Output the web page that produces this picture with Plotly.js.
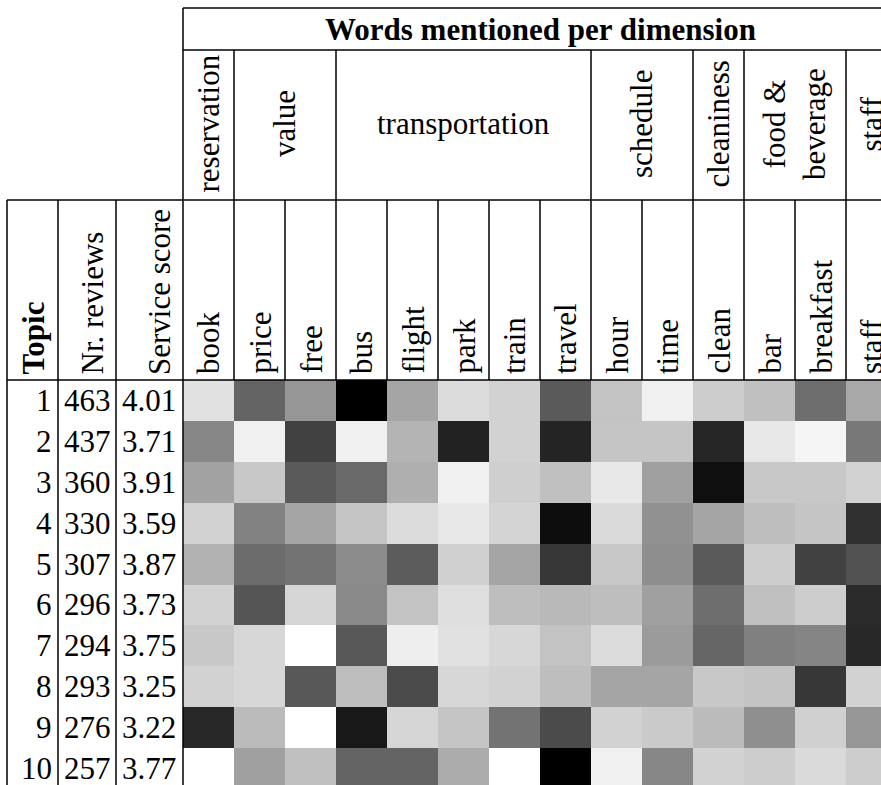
<!DOCTYPE html>
<html><head><meta charset="utf-8">
<script src="https://cdn.plot.ly/plotly-3.0.1.min.js"></script>
<style>html,body{margin:0;padding:0;background:#fff;}#chart{width:881px;height:785px;}</style>
</head><body><div id="chart"></div>
<script>
// ---------- data ----------
const topics = [1, 2, 3, 4, 5, 6, 7, 8, 9, 10];
const reviews = [463, 437, 360, 330, 307, 296, 294, 293, 276, 257];
const scores = ['4.01', '3.71', '3.91', '3.59', '3.87', '3.73', '3.75', '3.25', '3.22', '3.77'];
const words = ['book', 'price', 'free', 'bus', 'flight', 'park', 'train', 'travel', 'hour', 'time', 'clean', 'bar', 'breakfast', 'staff'];
const dimensions = ['reservation', 'value', 'transportation', 'schedule', 'cleaniness', 'food &<br>beverage', 'staff'];
const dimensionSpans = [1, 2, 5, 2, 1, 2, 1];
// grey level of each cell (0 = black, 255 = white), one array per topic
const topic1 = [225, 100, 150, 0, 165, 220, 210, 90, 195, 240, 205, 192, 110, 168];
const topic2 = [135, 240, 65, 240, 180, 33, 210, 36, 197, 197, 38, 232, 245, 120];
const topic3 = [162, 200, 90, 105, 175, 240, 207, 192, 232, 160, 15, 200, 200, 210];
const topic4 = [210, 130, 165, 197, 220, 232, 212, 13, 218, 145, 165, 190, 197, 48];
const topic5 = [178, 108, 115, 140, 92, 208, 165, 55, 200, 142, 90, 205, 65, 82];
const topic6 = [210, 85, 213, 138, 195, 222, 190, 185, 190, 160, 110, 192, 205, 43];
const topic7 = [200, 215, 255, 88, 238, 225, 215, 195, 220, 155, 102, 128, 133, 40];
const topic8 = [210, 215, 88, 190, 75, 215, 210, 190, 165, 165, 200, 195, 55, 210];
const topic9 = [40, 187, 255, 24, 213, 197, 115, 75, 210, 202, 187, 143, 208, 150];
const topic10 = [255, 160, 192, 100, 100, 172, 255, 0, 240, 135, 210, 205, 218, 205];
const greyLevels = [topic1, topic2, topic3, topic4, topic5, topic6, topic7, topic8, topic9, topic10];

// ---------- layout geometry (pixels) ----------
const W = 881, H = 785;
const px = v => v / W;
const py = v => 1 - v / H;
const tableLeft = 7, topicRight = 58, reviewsRight = 116, heatLeft = 183;
const colWidth = 51.0;
const titleTop = 8, dimTop = 50, wordTop = 200, dataTop = 380;
const rowHeight = 40.9;
const FONT = 'Liberation Serif';
const FS = 31;
const LINE = {color: '#000', width: 1.5};

const xMax = -0.5 + (W - heatLeft) / colWidth;
const yMax = 0.5 + (H - dataTop) / rowHeight;

const trace = {
  type: 'heatmap',
  x: words,
  y: topics,
  z: greyLevels,
  zmin: 0, zmax: 255,
  colorscale: [[0, 'rgb(0,0,0)'], [1, 'rgb(255,255,255)']],
  showscale: false,
  hoverinfo: 'skip'
};

const shapes = [];
const annotations = [];
function hline(y, x0, x1) {
  shapes.push({type: 'line', xref: 'paper', yref: 'paper', x0: px(x0), x1: px(x1), y0: y, y1: y, line: LINE});
}
// horizontal rules
hline(py(titleTop), heatLeft, W + 5);
hline(py(dimTop), heatLeft, W + 5);
hline(py(wordTop), tableLeft, W + 5);
hline(py(dataTop), tableLeft, W + 5);
// vertical rules of the left block
[tableLeft, topicRight, reviewsRight].forEach(x => {
  shapes.push({type: 'line', xref: 'paper', yref: 'paper', x0: px(x), x1: px(x), y0: py(wordTop), y1: 0, line: LINE});
});
shapes.push({type: 'line', xref: 'paper', yref: 'paper', x0: px(heatLeft), x1: px(heatLeft), y0: py(titleTop), y1: 0, line: LINE});
// word separators
for (let i = 1; i < words.length; i++) {
  shapes.push({type: 'line', xref: 'x', yref: 'paper', x0: i - 0.5, x1: i - 0.5, y0: py(wordTop), y1: py(dataTop), line: LINE});
}
// dimension separators + labels
let start = 0;
dimensions.forEach((d, k) => {
  const span = dimensionSpans[k];
  const end = start + span;
  if (k < dimensions.length - 1) {
    shapes.push({type: 'line', xref: 'x', yref: 'paper', x0: end - 0.5, x1: end - 0.5, y0: py(dimTop), y1: py(wordTop), line: LINE});
  }
  const center = (start + end - 1) / 2;
  annotations.push({
    xref: 'x', yref: 'paper', x: center, y: py(124),
    text: d, showarrow: false, textangle: span >= 5 ? 0 : -90,
    xanchor: 'center', yanchor: 'middle',
    font: {family: FONT, size: FS, color: '#000'}
  });
  start = end;
});
// title
annotations.push({
  xref: 'paper', yref: 'paper', x: px(540), y: py(30),
  text: '<b>Words mentioned per dimension</b>', showarrow: false,
  xanchor: 'center', yanchor: 'middle',
  font: {family: FONT, size: FS, color: '#000'}
});
// word headers
words.forEach((w, i) => {
  annotations.push({
    xref: 'x', yref: 'paper', x: i, y: py(376),
    text: w, showarrow: false, textangle: -90,
    xanchor: 'center', yanchor: 'bottom',
    font: {family: FONT, size: FS, color: '#000'}
  });
});
// left headers
[['<b>Topic</b>', 33], ['Nr. reviews', 92], ['Service score', 159]].forEach(([t, x]) => {
  annotations.push({
    xref: 'paper', yref: 'paper', x: px(x), y: py(377),
    text: t, showarrow: false, textangle: -90,
    xanchor: 'center', yanchor: 'bottom',
    font: {family: FONT, size: FS, color: '#000'}
  });
});
// row cells
topics.forEach((t, r) => {
  annotations.push({xref: 'paper', yref: 'y', x: px(54), y: t, text: String(t), showarrow: false,
    xanchor: 'right', yanchor: 'middle', font: {family: FONT, size: FS, color: '#000'}});
  annotations.push({xref: 'paper', yref: 'y', x: px(87), y: t, text: String(reviews[r]), showarrow: false,
    xanchor: 'center', yanchor: 'middle', font: {family: FONT, size: FS, color: '#000'}});
  annotations.push({xref: 'paper', yref: 'y', x: px(149), y: t, text: scores[r], showarrow: false,
    xanchor: 'center', yanchor: 'middle', font: {family: FONT, size: FS, color: '#000'}});
});

const layout = {
  width: W, height: H,
  margin: {l: 0, r: 0, t: 0, b: 0, pad: 0},
  paper_bgcolor: '#fff', plot_bgcolor: '#fff',
  showlegend: false,
  xaxis: {domain: [px(heatLeft), 1], range: [-0.5, xMax], visible: false, fixedrange: true},
  yaxis: {domain: [0, 1 - dataTop / H], range: [yMax, 0.5], visible: false, fixedrange: true},
  shapes: shapes,
  annotations: annotations,
  font: {family: FONT}
};

Plotly.newPlot('chart', [trace], layout, {displayModeBar: false, staticPlot: true});
</script></body></html>
